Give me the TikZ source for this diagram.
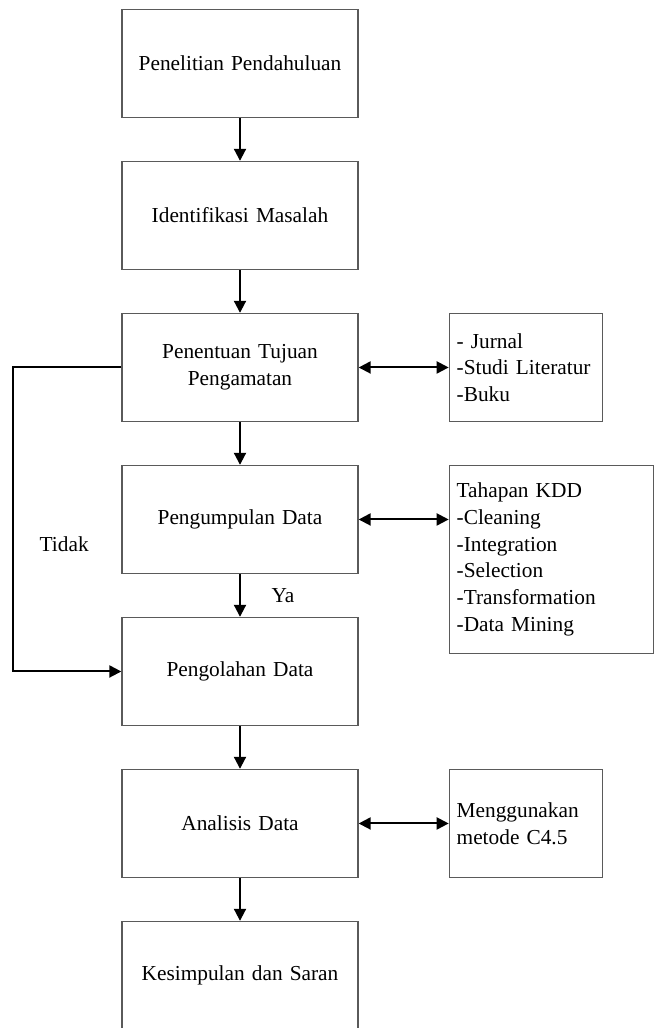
\documentclass[tikz,border=0pt]{standalone}
\usepackage{fontspec}
\setmainfont{Liberation Serif}
\usetikzlibrary{arrows.meta,positioning}
\definecolor{boxline}{HTML}{5A5A5A}
\tikzset{
  base/.style={font=\fontsize{16}{20}\selectfont,draw=boxline,line width=1pt,fill=white,inner sep=5pt},
  proses/.style={base,align=center,minimum width=177pt,minimum height=81pt,text width=165pt},
  info/.style={base,align=left,inner xsep=5.5pt,minimum height=81pt},
  ket/.style={font=\fontsize{16}{20}\selectfont,inner sep=2pt},
  flow/.style={-{Triangle[length=9pt,width=9pt]},line width=1.5pt,draw=black},
  both/.style={{Triangle[length=9pt,width=9pt]}-{Triangle[length=9pt,width=9pt]},line width=1.5pt,draw=black}
}
\begin{document}
\begin{tikzpicture}
\useasboundingbox (0,0) rectangle (490.5pt,-771pt);
\node[proses] (awal) at (180pt,-47.6pt) {Penelitian Pendahuluan};
\node[proses,below=32pt of awal] (masalah) {Identifikasi Masalah};
\node[proses,below=32pt of masalah] (tujuan) {Penentuan Tujuan\\Pengamatan};
\node[proses,below=32pt of tujuan] (kumpul) {Pengumpulan Data};
\node[proses,below=32pt of kumpul] (olah) {Pengolahan Data};
\node[proses,below=32pt of olah] (analisis) {Analisis Data};
\node[proses,below=32pt of analisis] (simpul) {Kesimpulan dan Saran};

\node[info,text width=104pt,right=67.5pt of tujuan] (literatur) {- Jurnal\\-Studi Literatur\\-Buku};
\node[info,text width=142pt,minimum height=141pt,right=67.5pt of kumpul.north east,anchor=north west] (kdd) {Tahapan KDD\\-Cleaning\\-Integration\\-Selection\\-Transformation\\-Data Mining};
\node[info,text width=104pt,right=67.5pt of analisis] (metode) {Menggunakan\\metode C4.5};

\draw[flow] (awal) -- (masalah);
\draw[flow] (masalah) -- (tujuan);
\draw[flow] (tujuan) -- (kumpul);
\draw[flow] (kumpul) -- node[ket,right=21pt] {Ya} (olah);
\draw[flow] (olah) -- (analisis);
\draw[flow] (analisis) -- (simpul);
\draw[both] (tujuan) -- (literatur);
\draw[both] (kumpul.east) -- (kumpul.east -| kdd.west);
\draw[both] (analisis) -- (metode);
\draw[flow] (tujuan.west) -- ++(-81pt,0) |- node[ket,pos=0.29,right=17pt] {Tidak} (olah.west);
\end{tikzpicture}
\end{document}
